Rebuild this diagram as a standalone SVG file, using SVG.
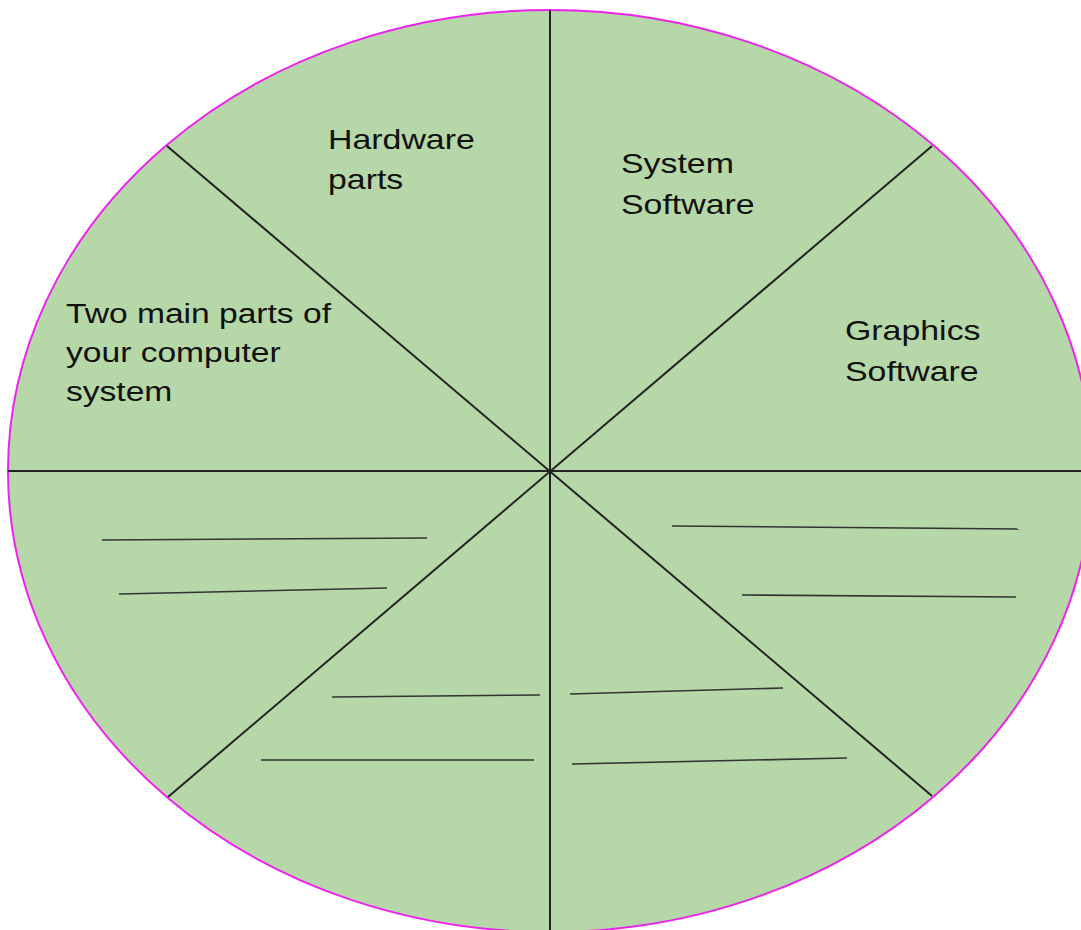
<svg xmlns="http://www.w3.org/2000/svg" width="1081" height="930" viewBox="0 0 1081 930">
<style>
.t{font-family:"Liberation Sans",Arial,sans-serif;font-size:28px;fill:#111}
.d{stroke:#222;stroke-width:2;fill:none}
.u{stroke:#333;stroke-width:1.6;fill:none}
</style>
<rect width="1081" height="930" fill="#fff"/>
<g id="pie">
<ellipse cx="550" cy="471" rx="542" ry="461" fill="#b6d7a8" stroke="#ee22ee" stroke-width="2"/>
</g>
<g id="connectors">
<line class="d" x1="550" y1="10" x2="550" y2="932"/>
<line class="d" x1="8" y1="471" x2="1081" y2="471"/>
<line class="d" x1="167" y1="146" x2="932" y2="796"/>
<line class="d" x1="932" y1="146" x2="168" y2="797"/>
<line class="u" x1="102" y1="540" x2="427" y2="538"/>
<line class="u" x1="119" y1="594" x2="387" y2="588"/>
<line class="u" x1="332" y1="697" x2="540" y2="695"/>
<line class="u" x1="261" y1="760" x2="534" y2="760"/>
<line class="u" x1="570" y1="694" x2="783" y2="688"/>
<line class="u" x1="572" y1="764" x2="847" y2="758"/>
<line class="u" x1="672" y1="526" x2="1019" y2="529"/>
<line class="u" x1="742" y1="595" x2="1016" y2="597"/>
</g>
<g id="hardware" transform="translate(328,0) scale(1.21,1)"><text class="t" x="0" y="149">Hardware<tspan x="0" y="189">parts</tspan></text></g>
<g id="system" transform="translate(621,0) scale(1.21,1)"><text class="t" x="0" y="173">System<tspan x="0" y="214">Software</tspan></text></g>
<g id="graphics" transform="translate(845,0) scale(1.21,1)"><text class="t" x="0" y="340">Graphics<tspan x="0" y="381">Software</tspan></text></g>
<g id="twomain" transform="translate(66,0) scale(1.2,1)"><text class="t" x="0" y="323">Two main parts of<tspan x="0" y="362">your computer</tspan><tspan x="0" y="401">system</tspan></text></g>
</svg>
